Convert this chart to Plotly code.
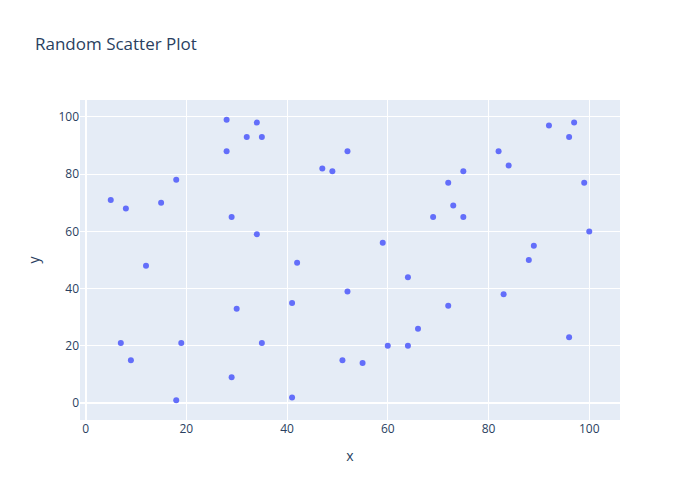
import plotly.graph_objects as go

x_values = [5, 8, 18, 15, 12, 7, 9, 19, 18, 28, 28, 34, 32, 35, 29, 34, 30, 35, 29, 41,
            42, 41, 47, 49, 52, 52, 51, 55, 59, 60, 64, 64, 66, 69, 72, 73, 75, 75, 72, 82,
            84, 83, 88, 89, 92, 96, 97, 99, 100, 96]
y_values = [71, 68, 78, 70, 48, 21, 15, 21, 1, 99, 88, 98, 93, 93, 65, 59, 33, 21, 9, 2,
            49, 35, 82, 81, 88, 39, 15, 14, 56, 20, 44, 20, 26, 65, 77, 69, 81, 65, 34, 88,
            83, 38, 50, 55, 97, 93, 98, 77, 60, 23]

fig = go.Figure(go.Scatter(x=x_values, y=y_values, mode="markers"))
fig.update_layout(
    title="Random Scatter Plot",
    xaxis_title="x",
    yaxis_title="y",
    width=700,
    height=500,
)
fig.write_html(
    "out.html",
    config={"displayModeBar": False},
    post_script="document.body.style.margin='0px';",
)
